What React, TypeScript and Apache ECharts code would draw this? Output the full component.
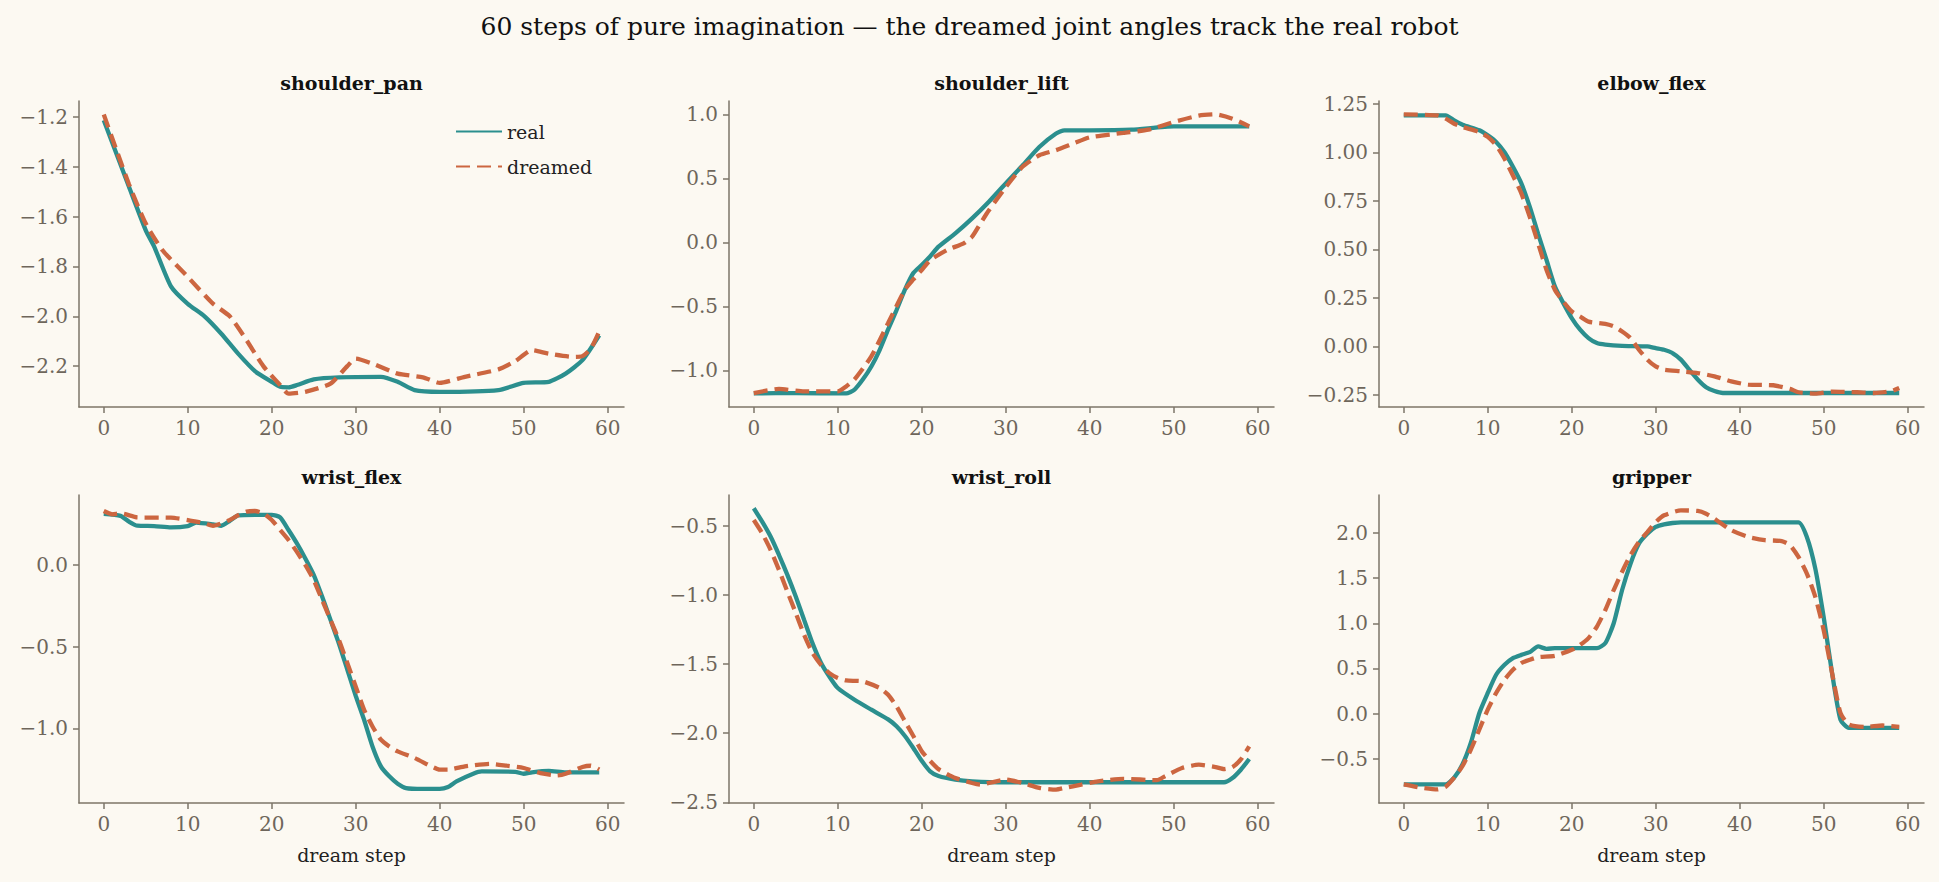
import React, { useEffect, useRef } from "react";
import * as echarts from "echarts";

const TEAL = "#2b8f8e";
const ORANGE = "#cc6640";
const AXIS = "#7d7568";
const LABEL = "#6e665b";
const BG = "#fcf9f2";
const FONT = "'DejaVu Serif', serif";

const titles = ["shoulder_pan", "shoulder_lift", "elbow_flex", "wrist_flex", "wrist_roll", "gripper"];
const xTicks = [0, 10, 20, 30, 40, 50, 60];

const panReal = [[0,-1.213],[3,-1.48],[5,-1.655],[6,-1.72],[8,-1.88],[10,-1.95],[12,-2.0],[14,-2.07],[16,-2.15],[18,-2.22],[20,-2.263],[21,-2.283],[22,-2.285],[23,-2.276],[25,-2.253],[28,-2.245],[33,-2.243],[35,-2.263],[37,-2.296],[40,-2.303],[47,-2.296],[50,-2.267],[53,-2.263],[55,-2.23],[57,-2.176],[59,-2.076]];
const panDream = [[0,-1.19],[3,-1.47],[5,-1.628],[7,-1.735],[10,-1.842],[13,-1.949],[15,-2.0],[17,-2.096],[19,-2.2],[21,-2.276],[22,-2.31],[24,-2.303],[27,-2.27],[29,-2.2],[30,-2.17],[32,-2.19],[35,-2.23],[38,-2.245],[40,-2.267],[43,-2.243],[47,-2.213],[49,-2.18],[51,-2.136],[53,-2.15],[56,-2.163],[57,-2.16],[58,-2.13],[59,-2.06]];

const liftReal = [[0,-1.18],[5,-1.177],[11,-1.18],[12,-1.15],[13,-1.07],[14,-0.97],[15,-0.84],[16,-0.68],[17,-0.53],[18,-0.37],[19,-0.24],[20,-0.177],[21,-0.11],[22,-0.034],[24,0.07],[26,0.187],[28,0.317],[30,0.46],[32,0.6],[34,0.745],[36,0.85],[37,0.875],[40,0.875],[45,0.88],[50,0.906],[59,0.906]];
const liftDream = [[0,-1.177],[3,-1.145],[6,-1.164],[10,-1.164],[11,-1.125],[12,-1.07],[14,-0.89],[16,-0.63],[18,-0.37],[19,-0.29],[20,-0.216],[21,-0.14],[23,-0.06],[25,-0.008],[26,0.044],[27,0.148],[28,0.25],[30,0.43],[32,0.59],[34,0.68],[36,0.72],[38,0.77],[40,0.82],[44,0.855],[47,0.88],[50,0.94],[53,0.99],[55,1.0],[57,0.966],[59,0.906]];

const elbowReal = [[0,1.19],[5,1.19],[6,1.164],[7,1.142],[9,1.113],[10,1.087],[11,1.053],[12,1.0],[13,0.925],[14,0.84],[15,0.72],[16,0.58],[17,0.445],[18,0.308],[19,0.223],[20,0.146],[21,0.086],[22,0.043],[23,0.017],[24,0.009],[26,0.003],[29,0.0],[30,-0.009],[31,-0.017],[32,-0.034],[33,-0.068],[34,-0.12],[35,-0.17],[36,-0.21],[37,-0.23],[38,-0.24],[59,-0.24]];
const elbowDream = [[0,1.195],[4,1.19],[5,1.173],[6,1.147],[7,1.13],[9,1.104],[10,1.079],[11,1.036],[12,0.967],[13,0.88],[14,0.788],[15,0.668],[16,0.531],[17,0.394],[18,0.291],[19,0.231],[20,0.18],[21,0.154],[22,0.128],[24,0.116],[25,0.103],[26,0.077],[27,0.043],[28,-0.017],[29,-0.068],[30,-0.103],[31,-0.12],[33,-0.128],[35,-0.137],[37,-0.154],[39,-0.18],[41,-0.197],[44,-0.2],[46,-0.219],[47,-0.236],[49,-0.243],[51,-0.233],[54,-0.236],[56,-0.24],[58,-0.231],[59,-0.214]];

const flexReal = [[0,0.312],[2,0.3],[3,0.265],[4,0.24],[6,0.238],[8,0.23],[10,0.238],[11,0.259],[13,0.248],[14,0.24],[15,0.27],[16,0.303],[18,0.307],[20,0.307],[21,0.291],[22,0.214],[23,0.132],[24,0.04],[25,-0.06],[26,-0.193],[27,-0.336],[28,-0.48],[29,-0.64],[30,-0.8],[31,-0.947],[32,-1.11],[33,-1.232],[34,-1.293],[35,-1.338],[36,-1.365],[38,-1.37],[40,-1.37],[41,-1.358],[42,-1.324],[44,-1.277],[45,-1.263],[49,-1.265],[50,-1.277],[51,-1.268],[53,-1.26],[55,-1.269],[59,-1.269]];
const flexDream = [[0,0.33],[1,0.31],[2,0.316],[4,0.291],[8,0.289],[10,0.275],[12,0.255],[13,0.24],[15,0.275],[16,0.305],[17,0.326],[18,0.33],[19,0.316],[20,0.275],[21,0.214],[22,0.153],[23,0.08],[24,0.0],[25,-0.092],[26,-0.214],[27,-0.336],[28,-0.458],[29,-0.6],[30,-0.743],[31,-0.886],[32,-0.988],[33,-1.069],[34,-1.11],[35,-1.14],[37,-1.18],[39,-1.232],[40,-1.252],[41,-1.252],[43,-1.232],[46,-1.216],[48,-1.228],[50,-1.242],[52,-1.273],[54,-1.287],[55,-1.277],[57,-1.236],[58,-1.228],[59,-1.252]];

const rollReal = [[0,-0.372],[1,-0.469],[2,-0.577],[3,-0.71],[4,-0.854],[5,-1.01],[6,-1.18],[7,-1.35],[8,-1.49],[9,-1.59],[10,-1.673],[12,-1.758],[14,-1.83],[16,-1.9],[17,-1.95],[18,-2.02],[19,-2.107],[20,-2.2],[21,-2.276],[22,-2.31],[24,-2.336],[26,-2.348],[30,-2.355],[56,-2.355],[57,-2.324],[58,-2.264],[59,-2.187]];
const rollDream = [[0,-0.457],[1,-0.553],[2,-0.673],[3,-0.818],[4,-0.975],[5,-1.13],[6,-1.288],[7,-1.42],[8,-1.505],[9,-1.565],[10,-1.6],[11,-1.618],[13,-1.625],[15,-1.673],[16,-1.722],[17,-1.806],[18,-1.914],[19,-2.02],[20,-2.13],[21,-2.2],[22,-2.26],[24,-2.324],[26,-2.36],[27,-2.372],[28,-2.36],[30,-2.336],[32,-2.36],[34,-2.396],[36,-2.408],[37,-2.396],[39,-2.372],[41,-2.348],[44,-2.33],[48,-2.34],[49,-2.31],[51,-2.252],[53,-2.228],[55,-2.245],[56,-2.26],[57,-2.245],[58,-2.19],[59,-2.095]];

const gripReal = [[0,-0.783],[5,-0.783],[6,-0.71],[7,-0.56],[8,-0.32],[9,0.007],[10,0.228],[11,0.43],[12,0.54],[13,0.614],[14,0.65],[15,0.68],[16,0.743],[17,0.717],[18,0.724],[23,0.724],[24,0.78],[25,1.0],[26,1.368],[27,1.66],[28,1.88],[29,1.99],[30,2.066],[31,2.095],[32,2.11],[33,2.118],[47,2.118],[48,1.956],[49,1.607],[50,1.07],[51,0.45],[52,-0.066],[53,-0.158],[59,-0.158]];
const gripDream = [[0,-0.783],[2,-0.82],[4,-0.84],[5,-0.81],[6,-0.71],[7,-0.58],[8,-0.397],[9,-0.176],[10,0.044],[11,0.228],[12,0.375],[13,0.485],[14,0.56],[15,0.596],[16,0.625],[18,0.64],[20,0.706],[21,0.76],[22,0.835],[23,0.963],[24,1.147],[25,1.368],[26,1.57],[27,1.754],[28,1.9],[29,2.01],[30,2.12],[31,2.195],[33,2.25],[35,2.243],[36,2.213],[37,2.158],[39,2.03],[41,1.956],[43,1.92],[45,1.91],[46,1.864],[47,1.735],[48,1.55],[49,1.294],[50,0.926],[51,0.45],[52,0.007],[53,-0.12],[55,-0.147],[57,-0.132],[59,-0.147]];

const yTicks = [
  [-2.2, -2.0, -1.8, -1.6, -1.4, -1.2],
  [-1.0, -0.5, 0.0, 0.5, 1.0],
  [-0.25, 0.0, 0.25, 0.5, 0.75, 1.0, 1.25],
  [-1.0, -0.5, 0.0],
  [-2.5, -2.0, -1.5, -1.0, -0.5],
  [-0.5, 0.0, 0.5, 1.0, 1.5, 2.0],
];
const yDecimals = [1, 1, 2, 1, 1, 1];
const yRanges = [[-2.364, -1.136], [-1.286, 1.104], [-0.312, 1.264], [-1.456, 0.428], [-2.505, -0.276], [-0.99, 2.42]];
const realSets = [panReal, liftReal, elbowReal, flexReal, rollReal, gripReal];
const dreamSets = [panDream, liftDream, elbowDream, flexDream, rollDream, gripDream];

export default function App() {
  const ref = useRef<HTMLDivElement>(null);
  useEffect(() => {
    const chart = echarts.init(ref.current!, null, { renderer: "svg" });
    const lefts = [79, 729, 1379];
    const tops = [101, 495];
    const W = 545;
    const H = [306, 308];
    const grids: any[] = [], xAxes: any[] = [], yAxes: any[] = [], series: any[] = [], graphics: any[] = [];
    for (let i = 0; i < 6; i++) {
      const c = i % 3, r = Math.floor(i / 3);
      grids.push({ left: lefts[c], top: tops[r], width: W, height: H[r], containLabel: false });
      xAxes.push({
        type: "value", gridIndex: i, min: -2.95, max: 61.95,
        name: r === 1 ? "dream step" : "", nameLocation: "middle", nameGap: 42,
        nameTextStyle: { fontFamily: FONT, fontSize: 19, color: "#222" },
        splitLine: { show: false },
        axisLine: { show: true, onZero: false, lineStyle: { color: AXIS, width: 1.5 } },
        axisTick: { show: true, length: 6, lineStyle: { color: AXIS, width: 1.5 }, customValues: xTicks },
        axisLabel: { fontFamily: FONT, fontSize: 20, color: LABEL, margin: 11, customValues: xTicks },
      });
      const d = yDecimals[i];
      yAxes.push({
        type: "value", gridIndex: i, min: yRanges[i][0], max: yRanges[i][1],
        splitLine: { show: false },
        axisLine: { show: true, onZero: false, lineStyle: { color: AXIS, width: 1.5 } },
        axisTick: { show: true, length: 6, lineStyle: { color: AXIS, width: 1.5 }, customValues: yTicks[i] },
        axisLabel: {
          fontFamily: FONT, fontSize: 20, color: LABEL, margin: 11, customValues: yTicks[i],
          formatter: (v: number) => (v < 0 ? "\u2212" : "") + Math.abs(v).toFixed(d),
        },
      });
      series.push({
        name: "real", type: "line", xAxisIndex: i, yAxisIndex: i, data: realSets[i], smooth: 0.2,
        showSymbol: false, symbol: "none", lineStyle: { color: TEAL, width: 4.3 }, itemStyle: { color: TEAL }, z: 2,
      });
      series.push({
        name: "dreamed", type: "line", xAxisIndex: i, yAxisIndex: i, data: dreamSets[i], smooth: 0.2,
        showSymbol: false, symbol: "none", lineStyle: { color: ORANGE, width: 4.3, type: [14, 7] }, itemStyle: { color: ORANGE }, z: 3,
      });
      graphics.push({
        type: "text", x: lefts[c] + W / 2, y: tops[r] - 18,
        style: { text: titles[i], textAlign: "center", textVerticalAlign: "middle", font: `bold 19px ${FONT}`, fill: "#111" },
      });
    }
    graphics.push({
      type: "text", x: 969.5, y: 26,
      style: { text: "60 steps of pure imagination \u2014 the dreamed joint angles track the real robot", textAlign: "center", textVerticalAlign: "middle", font: `25px ${FONT}`, fill: "#111" },
    });
    chart.setOption({
      animation: false,
      backgroundColor: BG,
      grid: grids, xAxis: xAxes, yAxis: yAxes, series,
      graphic: graphics,
      legend: {
        data: ["real", "dreamed"], orient: "vertical", left: 450, top: 117,
        itemWidth: 46, itemHeight: 14, itemGap: 16,
        itemStyle: { opacity: 0 },
        textStyle: { fontFamily: FONT, fontSize: 19, color: "#222" },
      },
    });
    return () => chart.dispose();
  }, []);
  return <div ref={ref} style={{ position: "absolute", left: 0, top: 0, width: 1939, height: 882 }} />;
}
